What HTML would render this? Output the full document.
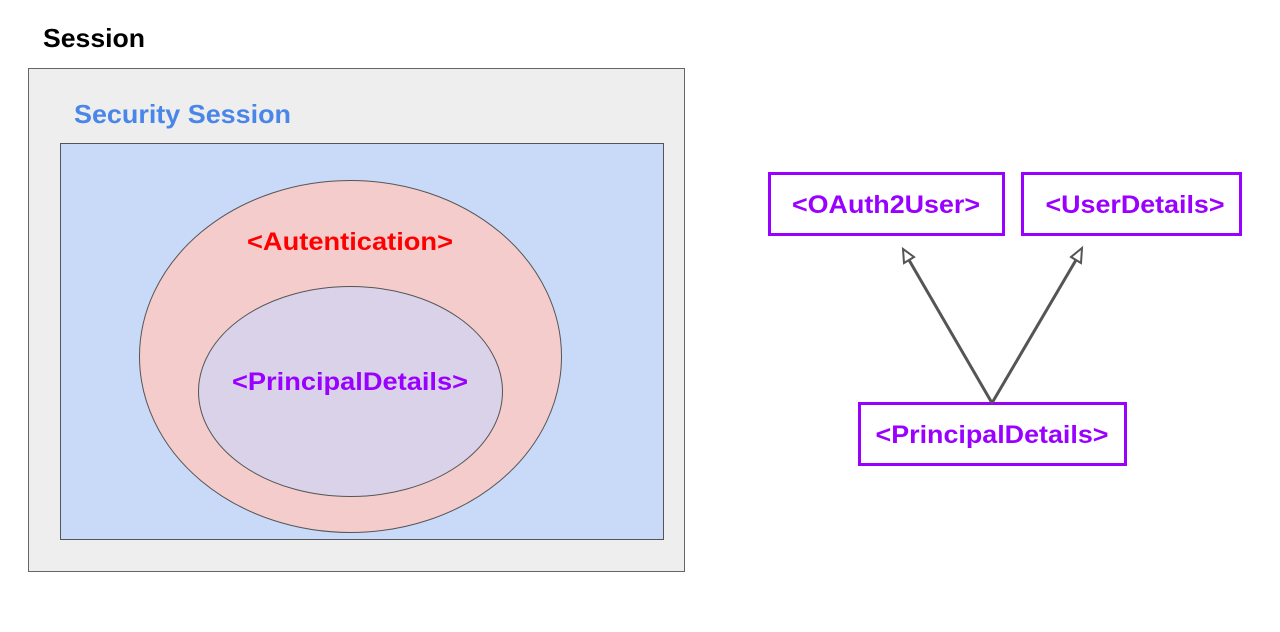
<!DOCTYPE html>
<html><head><meta charset="utf-8"><style>html,body{margin:0;padding:0;background:#fff}</style></head>
<body>
<svg width="1280" height="627" viewBox="0 0 1280 627" xmlns="http://www.w3.org/2000/svg" font-family="Liberation Sans, Arial, sans-serif" font-weight="bold">
<text x="43" y="47" font-size="26" fill="#000" textLength="102" lengthAdjust="spacingAndGlyphs">Session</text>
<rect x="28.5" y="68.5" width="656" height="503" fill="#eeeeee" stroke="#666" stroke-width="1"/>
<text x="74" y="123" font-size="26" fill="#4a86e8" textLength="217" lengthAdjust="spacingAndGlyphs">Security Session</text>
<rect x="60.5" y="143.5" width="603" height="396" fill="#c9daf8" stroke="#555" stroke-width="1"/>
<ellipse cx="350.5" cy="356.5" rx="211" ry="176" fill="#f4cccc" stroke="#555" stroke-width="1"/>
<ellipse cx="350.5" cy="391.5" rx="152" ry="105" fill="#d9d2e9" stroke="#555" stroke-width="1"/>
<text x="350" y="250" font-size="25" fill="#ff0000" text-anchor="middle" textLength="206" lengthAdjust="spacingAndGlyphs">&lt;Autentication&gt;</text>
<text x="350" y="390" font-size="25" fill="#9900ff" text-anchor="middle" textLength="236" lengthAdjust="spacingAndGlyphs">&lt;PrincipalDetails&gt;</text>
<g fill="none" stroke="#9900ff" stroke-width="3">
<rect x="769.5" y="173.5" width="234" height="61"/>
<rect x="1022.5" y="173.5" width="218" height="61"/>
<rect x="859.5" y="403.5" width="266" height="61"/>
</g>
<g font-size="25" fill="#9900ff" text-anchor="middle">
<text x="886" y="213" textLength="188" lengthAdjust="spacingAndGlyphs">&lt;OAuth2User&gt;</text>
<text x="1135" y="213" textLength="179" lengthAdjust="spacingAndGlyphs">&lt;UserDetails&gt;</text>
<text x="992" y="443" textLength="233" lengthAdjust="spacingAndGlyphs">&lt;PrincipalDetails&gt;</text>
</g>
<g stroke="#555" stroke-width="3" fill="none">
<line x1="992" y1="403" x2="909" y2="260"/>
<line x1="992" y1="403" x2="1076" y2="260"/>
</g>
<g stroke="#555" stroke-width="2" fill="#fff">
<polygon points="903,249 904,263 914,257"/>
<polygon points="1082,248 1071,257 1081,263"/>
</g>
</svg>
</body></html>
